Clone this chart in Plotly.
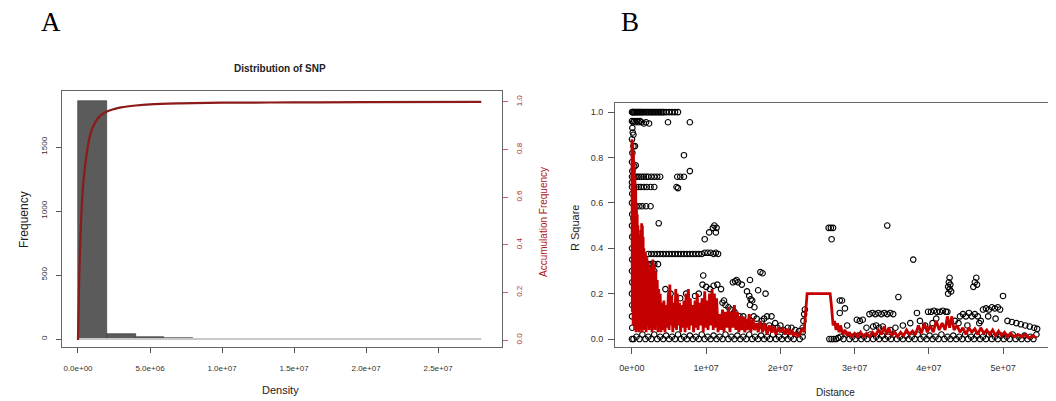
import plotly.graph_objects as go

# ---------------- Panel A data (Distribution of SNP) ----------------
hist_edges_mb = [0, 2, 4, 6, 8, 10, 12, 14, 16, 18, 20, 22, 24, 26, 28]
hist_counts = [1860, 38, 14, 5, 0, 0, 0, 0, 3, 0, 0, 0, 0, 0]
cum_x_mb = [0, 0.05, 0.1, 0.2, 0.3, 0.4, 0.6, 0.8, 1.0, 1.3, 1.6, 2.0, 2.5,
            3.0, 4.0, 5.0, 7.0, 10.0, 15.0, 20.0, 28.0]
cum_y = [0, 0.15, 0.3, 0.48, 0.6, 0.68, 0.78, 0.85, 0.89, 0.925, 0.945, 0.96,
         0.97, 0.977, 0.985, 0.99, 0.994, 0.997, 0.998, 0.999, 1.0]
a_xticks = [0, 5e6, 1e7, 1.5e7, 2e7, 2.5e7]
a_xticktext = ["0.0e+00", "5.0e+06", "1.0e+07", "1.5e+07", "2.0e+07", "2.5e+07"]
a_yticks = [0, 500, 1000, 1500]
a_y2ticks = [0, 0.2, 0.4, 0.6, 0.8, 1.0]

# ---------------- Panel B data (LD decay) ----------------
pts_top = [
    [0.0, 1.0], [0.1, 1.0], [0.2, 1.0], [0.3, 1.0], [0.45, 1.0], [0.6, 1.0], [0.75, 1.0],
    [0.9, 1.0], [1.05, 1.0], [1.2, 1.0], [1.35, 1.0], [1.5, 1.0], [1.7, 1.0], [1.9, 1.0],
    [2.1, 1.0], [2.3, 1.0], [2.5, 1.0], [2.7, 1.0], [2.9, 1.0], [3.1, 1.0], [3.3, 1.0],
    [3.5, 1.0], [3.7, 1.0], [3.9, 1.0], [4.1, 1.0], [4.3, 1.0], [4.6, 1.0], [5.0, 1.0],
    [5.4, 1.0], [5.8, 1.0], [6.2, 1.0],
    [0.0, 0.96], [0.15, 0.955], [0.3, 0.96], [0.5, 0.955], [0.7, 0.96], [0.9, 0.955],
    [1.1, 0.96], [1.3, 0.955], [1.6, 0.95], [1.9, 0.955], [2.3, 0.95], [4.85, 0.955],
    [7.8, 0.955], [0.05, 0.93], [0.1, 0.91], [0.2, 0.9], [0.0, 0.88],
    [0.2, 0.85], [0.4, 0.85], [7.0, 0.81], [0.3, 0.76], [0.5, 0.765], [7.8, 0.74],
    [0.0, 0.715], [0.25, 0.715], [0.5, 0.715], [0.75, 0.715], [1.0, 0.715], [1.3, 0.715],
    [1.6, 0.715], [1.9, 0.715], [2.2, 0.715], [2.6, 0.715], [3.0, 0.715], [3.4, 0.715],
    [3.8, 0.715], [6.1, 0.715], [6.5, 0.715], [7.0, 0.715],
    [0.0, 0.67], [0.3, 0.67], [0.6, 0.67], [0.9, 0.67], [1.2, 0.67], [1.6, 0.67],
    [2.0, 0.67], [2.5, 0.67], [3.0, 0.67], [6.0, 0.67], [6.2, 0.665],
    [0.3, 0.585], [0.6, 0.585], [1.0, 0.585], [1.4, 0.585], [1.9, 0.585], [2.5, 0.585],
    [0.3, 0.555], [0.2, 0.53], [3.6, 0.51],
]
pts_mid = [
    [9.8, 0.44], [10.4, 0.47], [10.9, 0.49], [11.1, 0.5], [11.4, 0.49], [11.3, 0.47],
    [2.2, 0.375], [2.6, 0.375], [3.0, 0.375], [3.4, 0.375], [3.8, 0.375], [4.2, 0.375],
    [4.6, 0.375], [5.0, 0.375], [5.4, 0.375], [5.8, 0.375], [6.2, 0.375], [6.6, 0.375],
    [7.0, 0.375], [7.4, 0.375], [7.8, 0.375], [8.2, 0.375], [8.6, 0.375], [9.0, 0.375],
    [9.4, 0.375], [9.8, 0.38], [10.2, 0.38], [10.6, 0.38], [11.0, 0.375], [11.3, 0.38],
    [11.6, 0.375],
    [2.2, 0.33], [2.6, 0.33], [3.0, 0.33], [3.5, 0.33], [3.0, 0.3],
    [26.5, 0.49], [26.8, 0.49], [27.1, 0.49], [26.9, 0.44], [34.4, 0.5], [37.9, 0.35],
    [17.3, 0.295], [17.6, 0.29], [9.6, 0.28],
    [9.5, 0.24], [10.0, 0.23], [10.5, 0.22], [11.0, 0.235], [11.5, 0.24], [12.0, 0.22],
    [13.6, 0.25], [13.9, 0.255], [14.1, 0.26], [14.3, 0.25], [14.8, 0.24], [15.9, 0.26],
    [17.0, 0.215], [18.0, 0.2],
    [4.5, 0.22], [5.2, 0.2], [6.5, 0.18], [7.3, 0.2], [8.5, 0.19], [9.0, 0.2],
]
pts_low = [
    [15.5, 0.21], [15.8, 0.19], [16.0, 0.175], [16.2, 0.17], [15.9, 0.15], [16.5, 0.14],
    [12.2, 0.16], [12.6, 0.15], [13.0, 0.14], [13.3, 0.13], [12.4, 0.17],
    [13.8, 0.12], [14.5, 0.1], [15.0, 0.1], [16.0, 0.08], [16.8, 0.09], [17.5, 0.08],
    [18.2, 0.1], [18.8, 0.1], [18.5, 0.06], [19.0, 0.05], [19.6, 0.05], [20.4, 0.04],
    [21.0, 0.05], [12.0, 0.08], [12.8, 0.1], [13.5, 0.07], [14.2, 0.09], [15.2, 0.06],
    [16.4, 0.1], [17.2, 0.06], [17.8, 0.09], [19.3, 0.07], [20.0, 0.06], [21.5, 0.05],
    [22.0, 0.04], [22.5, 0.035],
    [23.0, 0.05], [23.1, 0.08], [23.2, 0.11], [23.3, 0.13], [23.0, 0.03],
    [28.0, 0.17], [28.7, 0.135], [28.0, 0.115], [28.3, 0.17], [35.9, 0.185],
    [32.0, 0.11], [32.4, 0.115], [32.8, 0.11], [33.2, 0.115], [33.6, 0.11], [34.0, 0.115],
    [34.4, 0.11], [34.8, 0.115], [35.2, 0.11],
    [38.4, 0.115], [39.9, 0.12], [40.3, 0.12], [40.7, 0.125], [41.1, 0.12], [41.5, 0.12],
    [41.9, 0.125], [42.3, 0.12], [42.5, 0.12],
    [42.6, 0.2], [42.6, 0.23], [42.7, 0.25], [42.8, 0.27], [42.9, 0.24], [43.0, 0.21],
    [42.8, 0.22], [46.0, 0.23], [46.2, 0.25], [46.4, 0.27], [46.5, 0.24], [50.0, 0.19],
    [47.3, 0.13], [47.7, 0.135], [48.1, 0.13], [48.5, 0.14], [48.9, 0.135], [49.3, 0.14],
    [49.6, 0.13],
    [44.2, 0.1], [44.6, 0.11], [45.0, 0.1], [45.4, 0.115], [45.8, 0.1], [46.2, 0.11],
    [46.6, 0.1],
    [30.3, 0.085], [30.7, 0.08], [31.1, 0.085], [32.5, 0.055], [32.9, 0.06], [33.3, 0.05],
    [33.8, 0.055], [36.5, 0.06], [37.5, 0.07], [38.8, 0.08], [39.5, 0.06], [43.5, 0.08],
    [44.0, 0.07], [47.0, 0.08], [48.0, 0.1], [49.0, 0.09], [50.6, 0.08], [51.2, 0.075],
    [51.8, 0.07], [52.4, 0.065], [53.0, 0.06], [53.6, 0.055], [54.2, 0.05], [54.6, 0.045],
    [29.0, 0.06], [31.6, 0.05], [34.8, 0.04], [35.5, 0.05], [40.5, 0.07], [41.0, 0.09],
    [45.2, 0.06], [46.8, 0.07],
]
pts_left = [
    [0.0, 0.6], [0.02, 0.55], [0.0, 0.5], [0.03, 0.45], [0.0, 0.4], [0.02, 0.35],
    [0.0, 0.3], [0.03, 0.25], [0.0, 0.2], [0.02, 0.15], [0.0, 0.1], [0.03, 0.05],
    [0.0, 0.0], [0.05, 0.82], [0.0, 0.78], [0.04, 0.74], [0.0, 0.69], [0.03, 0.64],
]
pts_bottom = [
    [0.2, 0.0], [0.6, 0.01], [1.0, 0.0], [1.4, 0.02], [1.8, 0.0], [2.2, 0.01], [2.6, 0.0],
    [3.0, 0.02], [3.4, 0.0], [3.8, 0.01], [4.2, 0.0], [4.6, 0.015], [5.0, 0.0], [5.4, 0.01],
    [5.8, 0.0], [6.2, 0.02], [6.6, 0.0], [7.0, 0.01], [7.4, 0.0], [7.8, 0.015], [8.2, 0.0],
    [8.6, 0.01], [9.0, 0.0], [9.4, 0.02], [9.8, 0.0], [10.2, 0.01], [10.6, 0.0], [11.0, 0.015],
    [11.4, 0.0], [11.8, 0.01], [12.2, 0.0], [12.6, 0.02], [13.0, 0.0], [13.4, 0.01],
    [13.8, 0.0], [14.2, 0.015], [14.6, 0.0], [15.0, 0.01], [15.4, 0.0], [15.8, 0.02],
    [16.2, 0.0], [16.6, 0.01], [17.0, 0.0], [17.4, 0.015], [17.8, 0.0], [18.2, 0.01],
    [18.6, 0.0], [19.0, 0.02], [19.4, 0.0], [19.8, 0.01], [20.2, 0.0], [20.6, 0.015],
    [21.0, 0.0], [21.4, 0.01], [21.8, 0.0], [22.2, 0.02], [22.6, 0.0], [23.0, 0.01],
    [26.6, 0.0], [26.9, 0.0], [27.2, 0.0], [27.5, 0.0], [27.8, 0.005], [28.1, 0.01],
    [28.5, 0.0], [28.9, 0.02], [29.3, 0.0], [29.7, 0.01], [30.1, 0.0], [30.5, 0.015],
    [30.9, 0.0], [31.3, 0.01], [31.7, 0.0], [32.1, 0.02], [32.5, 0.0], [32.9, 0.01],
    [33.3, 0.0], [33.7, 0.015], [34.1, 0.0], [34.5, 0.01], [34.9, 0.0], [35.3, 0.02],
    [35.7, 0.0], [36.1, 0.01], [36.5, 0.0], [36.9, 0.015], [37.3, 0.0], [37.7, 0.01],
    [38.1, 0.0], [38.5, 0.02], [38.9, 0.0], [39.3, 0.01], [39.7, 0.0], [40.1, 0.015],
    [40.5, 0.0], [40.9, 0.01], [41.3, 0.0], [41.7, 0.02], [42.1, 0.0], [42.5, 0.01],
    [42.9, 0.0], [43.3, 0.015], [43.7, 0.0], [44.1, 0.01], [44.5, 0.0], [44.9, 0.02],
    [45.3, 0.0], [45.7, 0.01], [46.1, 0.0], [46.5, 0.015], [46.9, 0.0], [47.3, 0.01],
    [47.7, 0.0], [48.1, 0.02], [48.5, 0.0], [48.9, 0.01], [49.3, 0.0], [49.7, 0.015],
    [50.1, 0.0], [50.5, 0.01], [50.9, 0.0], [51.3, 0.02], [51.7, 0.0], [52.1, 0.01],
    [52.5, 0.0], [52.9, 0.015], [53.3, 0.0], [53.7, 0.01], [54.1, 0.0], [54.5, 0.02],
]
red_pts = [
    [0.0, 0.88], [0.05, 0.12], [0.1, 0.86], [0.15, 0.06], [0.2, 0.82], [0.25, 0.1],
    [0.3, 0.78], [0.35, 0.04], [0.4, 0.72], [0.45, 0.08], [0.5, 0.66], [0.55, 0.03],
    [0.6, 0.6], [0.65, 0.06], [0.7, 0.55], [0.75, 0.04], [0.8, 0.5], [0.85, 0.07],
    [0.9, 0.46], [0.95, 0.03], [1.0, 0.42], [1.05, 0.06], [1.1, 0.44], [1.15, 0.04],
    [1.2, 0.48], [1.25, 0.05], [1.3, 0.51], [1.35, 0.03], [1.4, 0.5], [1.45, 0.06],
    [1.5, 0.45], [1.55, 0.04], [1.6, 0.4], [1.7, 0.05], [1.8, 0.38], [1.9, 0.03],
    [2.0, 0.36], [2.1, 0.06], [2.2, 0.34], [2.3, 0.04], [2.4, 0.3], [2.5, 0.05],
    [2.6, 0.32], [2.7, 0.03], [2.8, 0.35], [2.9, 0.05], [3.0, 0.33], [3.1, 0.04],
    [3.2, 0.3], [3.3, 0.06], [3.4, 0.26], [3.5, 0.03], [3.6, 0.22], [3.7, 0.05],
    [3.8, 0.2], [3.9, 0.03], [4.0, 0.16], [4.15, 0.04], [4.3, 0.17], [4.45, 0.03],
    [4.6, 0.15], [4.75, 0.05], [4.9, 0.2], [5.0, 0.04], [5.1, 0.24], [5.2, 0.06],
    [5.35, 0.19], [5.5, 0.03], [5.6, 0.16], [5.75, 0.05], [5.9, 0.22], [6.0, 0.04],
    [6.1, 0.2], [6.25, 0.06], [6.4, 0.16], [6.55, 0.03], [6.7, 0.15], [6.85, 0.05],
    [7.0, 0.17], [7.15, 0.03], [7.3, 0.2], [7.4, 0.05], [7.6, 0.22], [7.7, 0.04],
    [7.85, 0.18], [8.0, 0.06], [8.15, 0.15], [8.3, 0.03], [8.5, 0.17], [8.6, 0.05],
    [8.8, 0.2], [8.9, 0.04], [9.1, 0.16], [9.25, 0.06], [9.45, 0.18], [9.6, 0.03],
    [9.8, 0.21], [9.95, 0.05], [10.1, 0.17], [10.25, 0.04], [10.45, 0.2], [10.6, 0.06],
    [10.8, 0.22], [10.95, 0.04], [11.1, 0.2], [11.25, 0.05], [11.4, 0.18], [11.6, 0.03],
    [11.8, 0.11], [12.0, 0.04], [12.2, 0.13], [12.4, 0.03], [12.6, 0.12], [12.8, 0.05],
    [13.0, 0.14], [13.2, 0.03], [13.4, 0.12], [13.6, 0.05], [13.8, 0.15], [14.0, 0.04],
    [14.2, 0.12], [14.4, 0.03], [14.6, 0.1], [14.8, 0.04], [15.0, 0.1], [15.2, 0.03],
    [15.4, 0.09], [15.6, 0.04], [15.8, 0.11], [16.0, 0.03], [16.3, 0.09], [16.5, 0.04],
    [16.8, 0.07], [17.0, 0.03], [17.3, 0.08], [17.6, 0.03], [17.9, 0.07], [18.2, 0.02],
    [18.5, 0.06], [18.8, 0.03], [19.1, 0.055], [19.4, 0.02], [19.7, 0.05], [20.0, 0.03],
    [20.3, 0.05], [20.6, 0.02], [20.9, 0.045], [21.2, 0.02], [21.5, 0.04], [21.8, 0.015],
    [22.1, 0.03], [22.4, 0.01], [22.7, 0.03], [23.0, 0.05], [23.2, 0.03], [23.4, 0.12],
    [23.6, 0.2], [24.0, 0.2], [25.0, 0.2], [26.0, 0.2], [26.7, 0.2], [26.9, 0.14],
    [27.1, 0.06], [27.3, 0.08], [27.5, 0.04], [27.7, 0.07], [27.9, 0.03], [28.1, 0.06],
    [28.4, 0.02], [28.7, 0.04], [29.0, 0.015], [29.3, 0.03], [29.6, 0.01], [30.0, 0.025],
    [30.4, 0.01], [30.8, 0.03], [31.2, 0.01], [31.6, 0.025], [32.0, 0.01], [32.4, 0.03],
    [32.8, 0.015], [33.2, 0.04], [33.6, 0.02], [34.0, 0.055], [34.3, 0.02], [34.6, 0.05],
    [35.0, 0.015], [35.4, 0.03], [35.8, 0.01], [36.2, 0.03], [36.6, 0.015], [37.0, 0.04],
    [37.4, 0.02], [37.8, 0.035], [38.2, 0.02], [38.6, 0.06], [39.0, 0.025], [39.4, 0.07],
    [39.8, 0.03], [40.2, 0.06], [40.6, 0.03], [41.0, 0.08], [41.4, 0.04], [41.8, 0.07],
    [42.2, 0.04], [42.5, 0.1], [42.8, 0.05], [43.1, 0.1], [43.4, 0.04], [43.8, 0.06],
    [44.2, 0.03], [44.6, 0.05], [45.0, 0.02], [45.4, 0.05], [45.8, 0.03], [46.2, 0.045],
    [46.6, 0.02], [47.0, 0.05], [47.4, 0.025], [47.8, 0.04], [48.2, 0.02], [48.6, 0.04],
    [49.0, 0.015], [49.4, 0.035], [49.8, 0.015], [50.2, 0.03], [50.6, 0.01], [51.0, 0.025],
    [51.5, 0.01], [52.0, 0.02], [52.5, 0.01], [53.0, 0.02], [53.5, 0.005], [54.0, 0.015],
    [54.5, 0.005],
]
b_xticks = [0, 1e7, 2e7, 3e7, 4e7, 5e7]
b_xticktext = ["0e+00", "1e+07", "2e+07", "3e+07", "4e+07", "5e+07"]
b_yticks = [0, 0.2, 0.4, 0.6, 0.8, 1.0]

MB = 1e6
OFF = 8                      # browser page margin offset
W, H = 1056 - OFF, 401 - OFF


def fx(px):
    return (px - OFF) / W


def fy(py):
    return 1 - (py - OFF) / H


# ---------------- build ----------------
fig = go.Figure()

centers = [(hist_edges_mb[i] + hist_edges_mb[i + 1]) / 2 * MB for i in range(len(hist_counts))]
widths = [(hist_edges_mb[i + 1] - hist_edges_mb[i]) * MB for i in range(len(hist_counts))]

fig.add_trace(go.Scatter(x=[hist_edges_mb[0] * MB, hist_edges_mb[-1] * MB], y=[0, 0],
                         mode="lines", line=dict(color="#c8c8c8", width=2),
                         xaxis="x", yaxis="y", showlegend=False, hoverinfo="skip"))
fig.add_trace(go.Bar(x=centers, y=hist_counts, width=widths,
                     marker=dict(color="#5b5b5b", line=dict(color="#333333", width=0.6)),
                     xaxis="x", yaxis="y", showlegend=False))
fig.add_trace(go.Scatter(x=[v * MB for v in cum_x_mb], y=cum_y, mode="lines",
                         line=dict(color="#8b1a1a", width=2.2, shape="spline"),
                         xaxis="x", yaxis="y2", showlegend=False))

scatter_pts = pts_bottom + pts_left + pts_low + pts_mid + pts_top
fig.add_trace(go.Scatter(x=[p[0] * MB for p in scatter_pts], y=[p[1] for p in scatter_pts],
                         mode="markers",
                         marker=dict(symbol="circle-open", size=5.5, color="black",
                                     line=dict(width=1.1, color="black")),
                         xaxis="x2", yaxis="y3", showlegend=False))
fig.add_trace(go.Scatter(x=[p[0] * MB for p in red_pts], y=[p[1] for p in red_pts],
                         mode="lines", line=dict(color="#c40000", width=2.8, simplify=False),
                         xaxis="x2", yaxis="y3", showlegend=False))

tickfont = dict(family="Liberation Sans", size=8, color="#333333")
tickfontB = dict(family="Liberation Sans", size=9, color="#333333")

a_l, a_r, a_t, a_b = 62, 502, 91, 347
b_l, b_r, b_t, b_b = 615, 1052, 103, 347

fig.update_layout(
    width=W, height=H, margin=dict(l=0, r=0, t=0, b=0),
    paper_bgcolor="white", plot_bgcolor="white", bargap=0,
    xaxis=dict(domain=[fx(a_l), fx(a_r)], anchor="y", range=[-1.11e6, 2.944e7],
               tickvals=a_xticks, ticktext=a_xticktext, tickfont=tickfont,
               ticks="outside", ticklen=5, tickcolor="#555", showgrid=False,
               zeroline=False, showline=True, mirror=True, linecolor="#666",
               linewidth=1, ticklabelstandoff=8),
    yaxis=dict(domain=[fy(a_b), fy(a_t)], anchor="x", range=[-62.5, 1937.5],
               tickvals=a_yticks, tickfont=tickfont, tickangle=-90,
               ticks="outside", ticklen=5, tickcolor="#555", showgrid=False,
               zeroline=False, showline=True, mirror=True, linecolor="#666",
               linewidth=1, ticklabelstandoff=6),
    yaxis2=dict(overlaying="y", side="right", anchor="x", range=[-0.029, 1.046],
                tickvals=a_y2ticks, ticktext=["0.0", "0.2", "0.4", "0.6", "0.8", "1.0"],
                tickfont=dict(family="Liberation Sans", size=8, color="#b03030"),
                tickangle=-90, ticks="outside", ticklen=5, tickcolor="#d06060",
                showgrid=False, zeroline=False, showline=False, ticklabelstandoff=4),
    xaxis2=dict(domain=[fx(b_l), fx(b_r)], anchor="y3", range=[-2.29e6, 5.66e7],
                tickvals=b_xticks, ticktext=b_xticktext, tickfont=tickfontB,
                ticks="outside", ticklen=6, tickcolor="#555", showgrid=False,
                zeroline=False, showline=True, mirror=True, linecolor="#666",
                linewidth=1, ticklabelstandoff=6),
    yaxis3=dict(domain=[fy(b_b), fy(b_t)], anchor="x2", range=[-0.035, 1.04],
                tickvals=b_yticks, ticktext=["0.0", "0.2", "0.4", "0.6", "0.8", "1.0"],
                tickfont=tickfontB, ticks="outside", ticklen=6, tickcolor="#555",
                showgrid=False, zeroline=False, showline=True, mirror=True,
                linecolor="#666", linewidth=1, ticklabelstandoff=3),
)


def ann(text, px, py, size, color="#222222", angle=0, bold=False, family="Liberation Sans"):
    fig.add_annotation(text=f"<b>{text}</b>" if bold else text, x=fx(px), y=fy(py),
                       xref="paper", yref="paper", showarrow=False, textangle=angle,
                       font=dict(family=family, size=size, color=color),
                       xanchor="center", yanchor="middle")


ann("A", 51, 22, 27, color="black", family="Liberation Serif")
ann("B", 630, 22, 27, color="black", family="Liberation Serif")
ann("Distribution of SNP", 280, 68, 10, bold=True)
ann("Frequency", 24, 220, 12, angle=-90)
ann("Density", 280, 390, 11)
ann("Accumulation Frequency", 543, 222, 10, color="#b02020", angle=-90)
ann("R Square", 575, 228, 11, angle=-90)
ann("Distance", 835, 392, 10)

fig.write_html("out.html")
